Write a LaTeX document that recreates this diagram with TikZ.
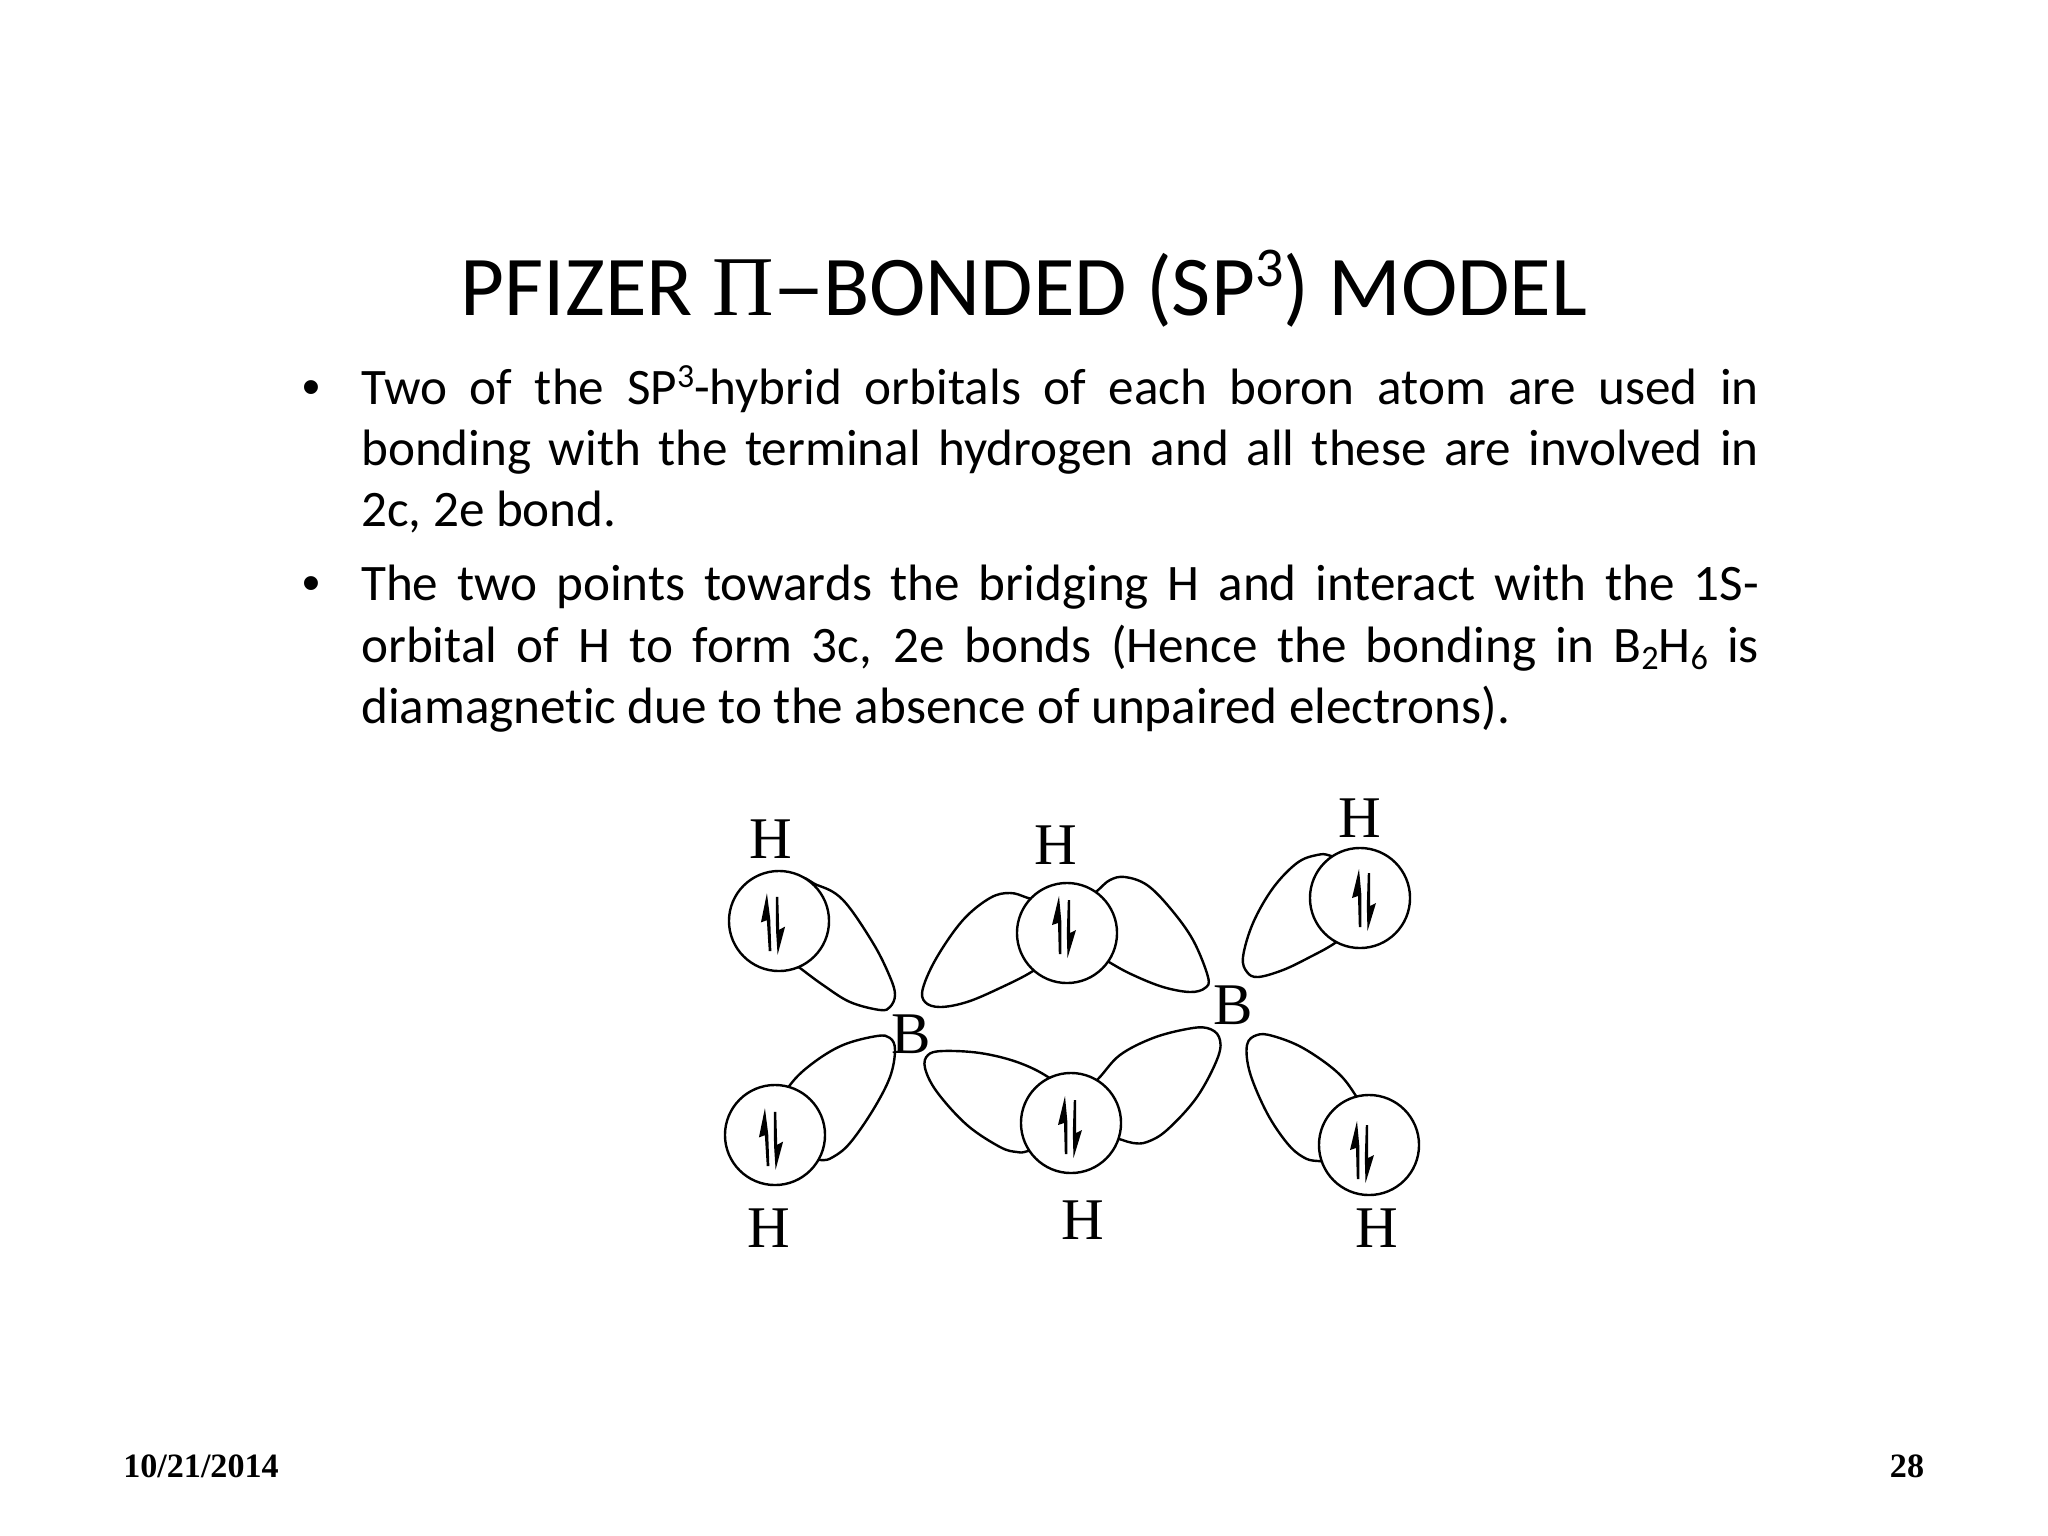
\documentclass[tikz,border=0pt]{standalone}
\usepackage{fontspec}
\setmainfont[RawFeature=-liga]{Carlito}
\newfontfamily\serifF{Liberation Serif}
\newfontfamily\bulletF{Liberation Sans}
\newcommand{\supr}[1]{\raisebox{0.33em}{\scalebox{0.66}{#1}}}
\newcommand{\subr}[1]{\raisebox{-0.14em}{\scalebox{0.67}{#1}}}
\newlength{\linew}\setlength{\linew}{13.97cm}
\tikzset{
  x=0.01cm,y=-0.01cm,
  atomlabel/.style={font=\serifF\fontsize{16.8}{18}\selectfont,inner sep=0pt,anchor=base},
  titletext/.style={font=\fontsize{24.2}{28}\selectfont,inner sep=0pt,anchor=base west},
  bodyline/.style={font=\fontsize{14.55}{17}\selectfont,inner sep=0pt,anchor=base west},
  bulletmark/.style={font=\bulletF\fontsize{14.55}{17}\selectfont,inner sep=0pt,anchor=base},
  foottext/.style={font=\serifF\bfseries\fontsize{9.7}{11}\selectfont,inner sep=0pt,anchor=base},
  lobe/.style={draw=black,line width=0.024cm,fill=white},
  hcircle/.style={circle,draw=black,fill=white,line width=0.024cm,minimum size=1cm,inner sep=0pt},
  spinpair/.pic={
    \fill (-5,-31) -- (-12,-2) -- (-6,-4) -- (-5.2,27) -- (-2.6,27) -- (-2.6,-5) -- cycle;
    \fill (3.5,31) -- (12,3) -- (6,6) -- (6.2,-27) -- (3.8,-27) -- (2.8,6) -- cycle;
  }
}
\begin{document}
\begin{tikzpicture}
\useasboundingbox[fill=white] (0,0) rectangle (2048,1536);
% title
\node[titletext] (title) at (460,315) {PFIZER {\serifF Π}\hspace{-0.01em}\scalebox{1.25}[1]{–}\hspace{-0.03em}BONDED (SP\supr{3}) MODEL};
% body
\node[bulletmark] (b1) at (311,404.5) {•};
\node[bodyline] (l1) at (360.5,404.5) {\makebox[\linew][s]{Two of the SP\supr{3}-hybrid orbitals of each boron atom are used in}};
\node[bodyline] (l2) at (360.5,465.5) {\makebox[\linew][s]{bonding with the terminal hydrogen and all these are involved in}};
\node[bodyline] (l3) at (360.5,526.5) {2c, 2e bond.};
\node[bulletmark] (b2) at (311,600.5) {•};
\node[bodyline] (l4) at (360.5,600.5) {\makebox[\linew][s]{The two points towards the bridging H and interact with the 1S-}};
\node[bodyline] (l5) at (360.5,662.5) {\makebox[\linew][s]{orbital of H to form 3c, 2e bonds (Hence the bonding in B\subr{2}H\subr{6} is}};
\node[bodyline] (l6) at (360.5,723.5) {diamagnetic due to the absence of unpaired electrons).};
% lobes
\draw[lobe] plot[smooth cycle,tension=0.6] coordinates {(795,882)(817,885)(843,900)(873,943)(890,977)(895,995)(890,1007)(880,1010)(850,1002)(823,985)(800,968)(770,945)};
\draw[lobe] plot[smooth cycle,tension=0.6] coordinates {(790,1085)(813,1063)(843,1045)(877,1036)(890,1038)(895,1050)(890,1077)(873,1110)(850,1143)(833,1157)(820,1160)(790,1155)(770,1120)};
\draw[lobe] plot[smooth cycle,tension=0.6] coordinates {(1028,898)(1010,893)(990,898)(963,920)(937,957)(923,988)(925,1002)(940,1007)(967,1002)(1000,988)(1033,971)(1060,950)(1060,910)};
\draw[lobe] plot[smooth cycle,tension=0.6] coordinates {(1048,1077)(1017,1062)(980,1053)(943,1051)(928,1055)(925,1068)(937,1092)(967,1125)(1000,1147)(1017,1152)(1028,1151)(1060,1140)(1075,1100)};
\draw[lobe] plot[smooth cycle,tension=0.6] coordinates {(1097,891)(1110,880)(1125,877)(1147,885)(1170,908)(1193,940)(1208,977)(1205,988)(1190,992)(1163,987)(1133,975)(1109,962)(1075,940)(1075,910)};
\draw[lobe] plot[smooth cycle,tension=0.6] coordinates {(1098,1079)(1120,1055)(1153,1038)(1187,1029)(1207,1028)(1219,1037)(1218,1057)(1197,1097)(1167,1130)(1147,1142)(1133,1143)(1119,1139)(1085,1130)(1075,1100)};
\draw[lobe] plot[smooth cycle,tension=0.6] coordinates {(1331,856)(1317,855)(1297,863)(1273,888)(1253,923)(1243,957)(1247,972)(1258,977)(1283,970)(1310,957)(1335,943)(1365,920)(1360,870)};
\draw[lobe] plot[smooth cycle,tension=0.6] coordinates {(1356,1096)(1337,1072)(1303,1048)(1273,1036)(1257,1035)(1247,1045)(1250,1073)(1267,1113)(1287,1143)(1303,1157)(1318,1161)(1350,1160)(1375,1130)};
% circles
\node[hcircle] (c1) at (779,921) {};
\node[hcircle] (c2) at (775,1135) {};
\node[hcircle] (c3) at (1067,933) {};
\node[hcircle] (c4) at (1071,1123) {};
\node[hcircle] (c5) at (1360,898) {};
\node[hcircle] (c6) at (1369,1145) {};
% spin pairs
\pic[rotate=2] at (773,924) {spinpair};
\pic[rotate=2] at (771,1139) {spinpair};
\pic at (1064,927) {spinpair};
\pic at (1070,1127) {spinpair};
\pic at (1364,900) {spinpair};
\pic at (1362,1152) {spinpair};
% atom labels
\node[atomlabel] (h1) at (771,858) {H};
\node[atomlabel] (h2) at (769,1247) {H};
\node[atomlabel] (h3) at (1056,864) {H};
\node[atomlabel] (h4) at (1083,1239) {H};
\node[atomlabel] (h5) at (1360,837) {H};
\node[atomlabel] (h6) at (1377,1247) {H};
\node[atomlabel] (b1a) at (911,1053) {B};
\node[atomlabel] (b2a) at (1233,1024) {B};
% footer
\node[foottext] (date) at (201,1477) {10/21/2014};
\node[foottext] (page) at (1907,1477) {28};
\end{tikzpicture}
\end{document}
